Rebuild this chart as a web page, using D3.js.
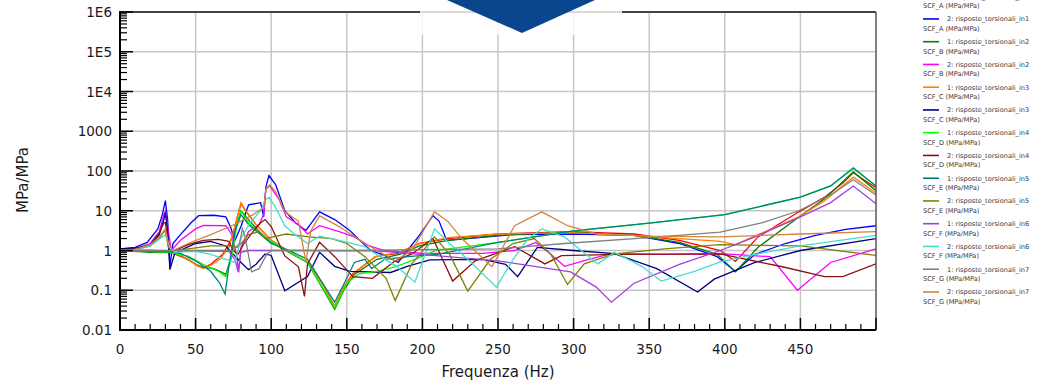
<!DOCTYPE html>
<html>
<head>
<meta charset="utf-8">
<script src="https://cdn.jsdelivr.net/npm/d3@7"></script>
<style>
  body { margin: 0; background: #fff; }
  svg { display: block; }
</style>
</head>
<body>
<svg id="chart" width="1049" height="382"></svg>
<script>
// frequency (Hz) / SCF (MPa/MPa) pairs
const red = [[0,1],[10,1],[20,1],[30,0.95],[35,0.85],[45,0.6],[52,0.4],[55,0.36],[60,0.45],[68,0.8],[74,2],[78,8],[80,15],[84,9],[90,4.5],[100,1.8],[112,0.9],[124,0.5],[134,0.15],[142,0.038],[148,0.12],[154,0.26],[169,0.7],[184,0.85],[198,1.5],[217,2],[250,2.6],[298,3.0],[340,2.6],[370,1.8],[397,1.0],[407,0.53],[422,2.2],[449,9.4],[466,22],[478,50],[485,90],[492,60],[500,38]];
const blue = [[0,1.1],[10,1.2],[18,1.6],[25,3.5],[28,8],[30,18],[31.5,6],[33,0.4],[35,1.5],[40,2.5],[47,5],[52,7.5],[62,7.7],[70,7],[73,4],[76,1.8],[80,4],[85,14],[93,16],[95,7],[96.5,40],[98.5,77],[103,45],[109,10],[116,5],[123,3.2],[132,9.4],[142,6],[152,3.2],[160,1.6],[166,1.0],[175,0.75],[184,0.5],[190,1.0],[198,2.4],[207,7.5],[211,5.5],[216,1.8],[230,2.0],[260,2.5],[300,2.6],[340,2.4],[370,1.5],[395,0.7],[407,0.3],[420,0.8],[440,1.5],[460,2.4],[480,3.4],[500,4.2]];
const green = [[0,1],[10,0.95],[20,0.9],[33,0.88],[40,0.75],[50,0.45],[55,0.38],[62,0.35],[66,0.3],[70,0.25],[73,0.6],[76,3],[80,10],[85,6],[92,3],[100,1.6],[124,0.5],[142,0.033],[148,0.1],[155,0.25],[170,0.6],[185,0.8],[198,1.3],[217,1.8],[250,2.4],[298,2.9],[340,2.4],[370,1.6],[395,0.8],[407,0.29],[422,1.2],[449,7],[466,20],[485,95],[500,32]];
const magenta = [[0,1],[10,1.1],[20,1.5],[26,3],[29,8],[30,10],[32,3],[34,1.0],[40,1.8],[50,3.5],[55,4.3],[70,4.2],[74,2.5],[77,0.8],[78.5,0.28],[80,1.2],[85,3],[92,4.5],[95,8],[96.5,35],[99,42],[105,20],[110,7],[118,4.5],[124,2.6],[132,4.2],[145,3],[155,2.2],[165,1.3],[175,1.0],[200,0.85],[240,0.85],[261,1.0],[275,1.6],[285,0.8],[294,0.4],[310,0.6],[325,0.83],[360,0.8],[400,0.82],[430,0.7],[448,0.1],[470,0.5],[500,1.1]];
const orange = [[0,1],[10,1],[20,0.95],[33,0.9],[40,0.75],[50,0.45],[55,0.35],[60,0.42],[66,0.6],[72,1.2],[76,4],[80,16],[84,9],[90,4.5],[100,1.8],[112,0.95],[124,0.5],[134,0.14],[142,0.04],[148,0.12],[155,0.27],[169,0.7],[184,0.9],[198,1.5],[217,2.1],[250,2.6],[298,2.8],[340,2.4],[370,2.0],[397,1.7],[407,1.4],[422,2.5],[449,7],[466,18],[485,70],[500,28]];
const navy = [[0,1.1],[10,1.15],[20,1.3],[26,2.5],[29,6],[30,9],[31.5,3],[33,0.33],[36,0.8],[42,1.1],[50,1.5],[60,1.7],[70,1.3],[75,0.8],[80,0.5],[85,0.33],[90,0.45],[96,0.82],[100,0.75],[109,0.097],[124,0.22],[132,0.9],[142,0.4],[152,0.3],[179,0.28],[190,0.4],[205,0.58],[240,0.6],[255,0.45],[263,0.22],[276,1.2],[300,1.0],[327,0.83],[355,0.35],[382,0.09],[393,0.19],[420,0.5],[450,1.0],[500,2.0]];
const lime = [[0,1],[10,1],[20,0.95],[33,0.9],[45,0.72],[55,0.45],[65,0.3],[70,0.22],[74,0.7],[77,4],[80,10],[85,5],[92,2.8],[100,1.7],[124,0.5],[142,0.036],[150,0.15],[158,0.26],[170,0.3],[183,0.4],[195,0.6],[209,1.0],[225,1.2],[250,1.6],[300,3.1],[350,4.9],[400,8],[450,22],[470,42],[485,115],[500,42]];
const maroon = [[0,1],[10,1.1],[20,1.4],[26,2.8],[29,5],[30,5],[32,1.5],[35,0.95],[45,1.4],[55,1.8],[65,1.9],[72,1.7],[75,1.0],[78,0.8],[82,1.5],[88,3],[93,5],[96,6],[100,4],[109,0.73],[118,0.39],[122,0.07],[124,0.46],[132,1.6],[142,0.7],[154,0.22],[167,0.2],[182,0.55],[193,0.82],[207,2.0],[220,0.17],[235,0.55],[261,1.25],[281,0.46],[292,0.74],[330,0.8],[397,0.82],[438,0.39],[466,0.22],[478,0.22],[500,0.46]];
const teal = [[0,1],[10,1],[20,0.97],[33,0.93],[40,0.85],[50,0.55],[60,0.3],[66,0.15],[69.5,0.08],[72,0.4],[76,3],[80,8],[85,4.5],[100,1.5],[112,1.0],[124,0.6],[134,0.15],[142,0.05],[150,0.2],[155,0.5],[162,0.6],[166.5,0.35],[175,0.6],[190,0.7],[210,0.8],[250,1.6],[300,3.1],[350,4.9],[400,8],[450,22],[470,42],[485,120],[500,42]];
const olive = [[0,1],[10,1.05],[20,1.3],[26,2],[29,3],[30,3],[32,1.2],[35,1.0],[45,1.1],[60,1.3],[72,1.3],[78,1.2],[85,2.5],[92,3],[96,2.0],[110,2.6],[125,2.2],[140,2.0],[150,1.5],[162,0.7],[176,0.2],[182,0.055],[193,0.46],[208,2.2],[218,0.8],[230,0.095],[245,0.6],[260,1.5],[274,2.0],[285,0.8],[296,0.14],[307,0.46],[327,0.82],[360,1.1],[397,1.4],[450,1.3],[500,0.75]];
const purple = [[0,1],[20,1],[40,0.98],[60,0.97],[72,0.95],[76,0.6],[78,0.3],[80,0.9],[85,1.0],[120,1.0],[170,0.98],[195,0.82],[250,0.55],[298,0.29],[315,0.12],[325,0.05],[340,0.15],[370,0.45],[397,1.0],[420,2.2],[450,7],[470,16],[485,42],[500,15]];
const cyan = [[0,1],[10,1.05],[20,1.3],[28,2.2],[30,2.5],[33,1.2],[36,0.9],[50,0.95],[60,0.8],[70,0.6],[76,0.5],[80,2],[86,5],[93,10],[96,18],[98.5,22],[103,12],[109,4.2],[116,2.5],[124,1.5],[132,2.3],[145,1.8],[162,1.25],[169,0.82],[183,0.4],[195,0.16],[208,3.5],[218,1.5],[230,0.6],[249,0.12],[260,0.6],[270,2],[279,3.5],[294,2.2],[316,0.46],[327,0.9],[345,0.4],[358,0.17],[380,0.3],[397,0.52],[420,0.8],[450,1.3],[500,2.4]];
const grey = [[0,1],[20,1],[40,1],[60,1],[75,1],[79,1.5],[81,3.5],[83,2],[87,0.29],[92,0.35],[97,0.8],[100,1.0],[150,1.0],[200,1.05],[250,1.1],[294,1.5],[350,2.1],[397,2.9],[425,5],[449,10],[470,25],[485,60],[500,25]];
const peru = [[0,1],[10,1.05],[20,1.4],[26,2.2],[30,3.5],[32,1.5],[35,1.0],[45,1.5],[60,2.5],[74,4.2],[80,5.5],[88,8],[95,12],[96.5,35],[99,45],[103,30],[109,9.4],[118,5.5],[123,0.5],[126,3],[132,7.4],[145,4],[162,1.5],[182,0.55],[193,1.0],[208,9.4],[217,5.3],[226,2.0],[246,0.39],[261,4.2],[279,9.4],[296,4.2],[316,2.6],[350,2.3],[397,2.2],[450,2.6],[500,3.0]];

const seriesValues = [red, blue, green, magenta, orange, navy, lime, maroon, teal, olive, purple, cyan, grey, peru];
const seriesNames = [
  '1: risposte_torsionali_in1', '2: risposte_torsionali_in1',
  '1: risposte_torsionali_in2', '2: risposte_torsionali_in2',
  '1: risposte_torsionali_in3', '2: risposte_torsionali_in3',
  '1: risposte_torsionali_in4', '2: risposte_torsionali_in4',
  '1: risposte_torsionali_in5', '2: risposte_torsionali_in5',
  '1: risposte_torsionali_in6', '2: risposte_torsionali_in6',
  '1: risposte_torsionali_in7', '2: risposte_torsionali_in7'
];
const seriesScf = ['SCF_A','SCF_A','SCF_B','SCF_B','SCF_C','SCF_C','SCF_D','SCF_D','SCF_E','SCF_E','SCF_F','SCF_F','SCF_G','SCF_G'];
const seriesColors = ['#ff0000','#0000ff','#008000','#ff00ff','#ff8000','#000080','#00ff00','#8b1010','#008080','#808000','#a040d8','#40e0d0','#808080','#d2853f'];

const yTickValues = [0.01, 0.1, 1, 10, 100, 1000, 1e4, 1e5, 1e6];
const yTickLabels = ['0.01', '0.1', '1', '10', '100', '1000', '1E4', '1E5', '1E6'];
const xTickValues = [0, 50, 100, 150, 200, 250, 300, 350, 400, 450];

// --- layout
const svg = d3.select('#chart');
const plotLeft = 120, plotRight = 876, plotTop = 12, plotBottom = 330;
const x = d3.scaleLinear().domain([0, 500]).range([plotLeft, plotRight]);
const y = d3.scaleLog().domain([0.01, 1e6]).range([plotBottom, plotTop]);

// griglia
const grid = svg.append('g');
grid.selectAll('line.gx')
  .data(xTickValues.filter(d => d > 0))
  .enter().append('line')
  .attr('x1', d => x(d)).attr('x2', d => x(d))
  .attr('y1', plotTop).attr('y2', plotBottom)
  .attr('stroke', '#c6c6c6').attr('stroke-width', 1.5);
grid.selectAll('line.gy')
  .data(yTickValues.slice(1, -1))
  .enter().append('line')
  .attr('x1', plotLeft).attr('x2', plotRight)
  .attr('y1', d => y(d)).attr('y2', d => y(d))
  .attr('stroke', '#c6c6c6').attr('stroke-width', 1.5);

// curve
svg.append('clipPath').attr('id', 'plotClip')
  .append('rect').attr('x', plotLeft).attr('y', plotTop)
  .attr('width', plotRight - plotLeft).attr('height', plotBottom - plotTop);

const line = d3.line().x(d => x(d[0])).y(d => y(d[1]));
svg.append('g').attr('clip-path', 'url(#plotClip)')
  .selectAll('path')
  .data(seriesValues)
  .enter().append('path')
  .attr('d', d => line(d))
  .attr('fill', 'none')
  .attr('stroke', (d, i) => seriesColors[i])
  .attr('stroke-width', 1.3);

// cornice
svg.append('line').attr('x1', plotLeft).attr('x2', plotRight).attr('y1', plotTop).attr('y2', plotTop)
  .attr('stroke', '#444').attr('stroke-width', 2);
svg.append('line').attr('x1', plotRight).attr('x2', plotRight).attr('y1', plotTop).attr('y2', plotBottom)
  .attr('stroke', '#555').attr('stroke-width', 1.5);

// assi (tacche verso l'interno)
const yMinor = [];
for (let e = -2; e < 6; e++) for (let k = 2; k <= 9; k++) yMinor.push(k * Math.pow(10, e));
const axes = svg.append('g').attr('stroke', '#000');
axes.selectAll('line.ym').data(yMinor).enter().append('line')
  .attr('x1', plotLeft).attr('x2', plotLeft + 7)
  .attr('y1', d => y(d)).attr('y2', d => y(d)).attr('stroke-width', 1.2);
axes.selectAll('line.yM').data(yTickValues).enter().append('line')
  .attr('x1', plotLeft).attr('x2', plotLeft + 13)
  .attr('y1', d => y(d)).attr('y2', d => y(d)).attr('stroke-width', 1.5);
axes.selectAll('line.xm').data(d3.range(10, 500, 10).filter(d => d % 50 !== 0)).enter().append('line')
  .attr('x1', d => x(d)).attr('x2', d => x(d))
  .attr('y1', plotBottom).attr('y2', plotBottom - 6).attr('stroke-width', 1.2);
axes.selectAll('line.xM').data(xTickValues.concat([500])).enter().append('line')
  .attr('x1', d => x(d)).attr('x2', d => x(d))
  .attr('y1', plotBottom).attr('y2', plotBottom - 12).attr('stroke-width', 1.5);
axes.append('line').attr('x1', plotLeft).attr('x2', plotLeft)
  .attr('y1', plotTop - 1).attr('y2', plotBottom + 1).attr('stroke-width', 2);
axes.append('line').attr('x1', plotLeft - 1).attr('x2', plotRight)
  .attr('y1', plotBottom).attr('y2', plotBottom).attr('stroke-width', 2);

// etichette
const font = 'DejaVu Sans, Verdana, sans-serif';
svg.append('g').selectAll('text').data(yTickValues).enter().append('text')
  .attr('x', 112).attr('y', d => y(d) + 5)
  .attr('text-anchor', 'end')
  .style('font-family', font).style('font-size', '13.5px').style('fill', '#1a1a1a')
  .text((d, i) => yTickLabels[i]);
svg.append('g').selectAll('text').data(xTickValues).enter().append('text')
  .attr('x', d => x(d)).attr('y', 354)
  .attr('text-anchor', 'middle')
  .style('font-family', font).style('font-size', '13.5px').style('fill', '#1a1a1a')
  .text(d => d);
svg.append('text')
  .attr('x', x(250)).attr('y', 377)
  .attr('text-anchor', 'middle')
  .style('font-family', font).style('font-size', '15px').style('fill', '#1a1a1a')
  .text('Frequenza (Hz)');
svg.append('text')
  .attr('transform', 'translate(28,180) rotate(-90)')
  .attr('text-anchor', 'middle')
  .style('font-family', font).style('font-size', '15px').style('fill', '#1a1a1a')
  .text('MPa/MPa');

// logo in alto (tagliato)
svg.append('rect').attr('x', 420).attr('y', 0).attr('width', 202).attr('height', 35)
  .attr('fill', '#fff').attr('opacity', 0.8);
svg.append('polygon')
  .attr('points', '447,0 595,0 522,33')
  .attr('fill', '#0a468e');

// legenda
const legend = svg.append('g');
const entry = legend.selectAll('g').data(seriesNames).enter().append('g')
  .attr('transform', (d, i) => `translate(0,${-3.8 + i * 22.75})`);
entry.append('line').attr('x1', 923).attr('x2', 939).attr('y1', 0).attr('y2', 0)
  .attr('stroke', (d, i) => seriesColors[i]).attr('stroke-width', 1.6);
entry.append('text').attr('x', 947).attr('y', 2.5)
  .style('font-family', font).style('font-size', '6.6px').style('fill', '#3a3a3a')
  .text(d => d);
entry.append('text').attr('x', 923).attr('y', 12)
  .style('font-family', font).style('font-size', '6.6px').style('fill', '#3a3a3a')
  .text((d, i) => seriesScf[i] + ' (MPa/MPa)');
</script>
</body>
</html>
